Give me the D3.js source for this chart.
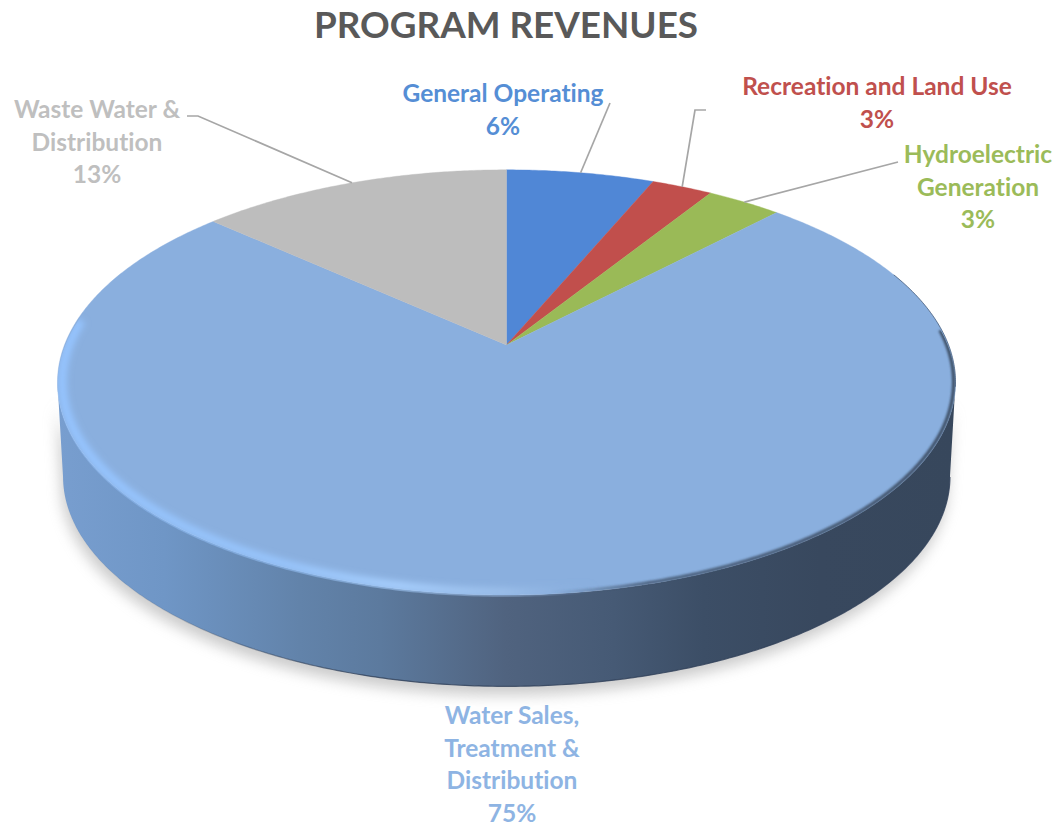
<!DOCTYPE html>
<html>
<head>
<meta charset="utf-8">
<script src="https://cdn.jsdelivr.net/npm/d3@7/dist/d3.min.js"></script>
<style>
html,body{margin:0;padding:0;background:#fff;overflow:hidden}
text{font-family:Lato,"Open Sans",sans-serif;font-weight:700;text-anchor:middle;font-variant-ligatures:none}
</style>
</head>
<body>
<svg id="c" width="1057" height="827"></svg>
<script>
// ---- data ----
const categories = ["General Operating","Recreation and Land Use","Hydroelectric Generation","Water Sales, Treatment & Distribution","Waste Water & Distribution"];
const values = [6.3, 2.6, 3.2, 74.6, 13.3];
const labelLines = [["General Operating"],["Recreation and Land Use"],["Hydroelectric","Generation"],["Water Sales,","Treatment &","Distribution"],["Waste Water &","Distribution"]];
const sliceColors = ["#5087d6","#c14f4c","#9aba57","#8aafde","#bdbdbd"];
const labelColors = ["#558ed5","#c0504d","#9bbb59","#8eb4e3","#bfbfbf"];
const title = "PROGRAM REVENUES";

// ---- layout ----
const W = 1057, H = 827;
const cx = 506.5, cy = 345, rx = 442, ry = 206, k = 0.176, depth = 95, baseR = 0.988;
const labelPos = [[503,102],[877,95],[978,163],[512,724],[97,118]];
const leaderPts = [[[610,103]],[[695,110],[706,110]],[[898,162]],null,[[198,116],[187,116]]];
const lineH = 32.7;

const svg = d3.select("#c");
const defs = svg.append("defs");
function blur(id,s){
  defs.append("filter").attr("id",id).attr("x","-10%").attr("y","-10%").attr("width","120%").attr("height","130%")
    .append("feGaussianBlur").attr("stdDeviation",s);
}
blur("b1",1.2); blur("b3",3.4); blur("b7",7);
function grad(id,stops){
  const g = defs.append("linearGradient").attr("id",id).attr("gradientUnits","userSpaceOnUse")
    .attr("x1",57).attr("x2",955).attr("y1",0).attr("y2",0);
  stops.forEach(s=>g.append("stop").attr("offset",s[0]).attr("stop-color",s[1]).attr("stop-opacity",s[2]===undefined?1:s[2]));
}
grad("side",[[0,"#789ecf"],[.12,"#6f96c6"],[.27,"#6283aa"],[.36,"#5c7a9e"],[.5,"#50637f"],[.62,"#465a75"],[.72,"#3c4e66"],[.85,"#38485e"],[1,"#37475c"]]);
grad("glow",[[0,"#95c4ff",1],[.25,"#97c4fb",1],[.38,"#a6cefd",1],[.5,"#a3c6f0",.65],[.6,"#8aafde",0],[1,"#8aafde",0]]);
grad("dark",[[0,"#37475c",0],[.55,"#37475c",0],[.66,"#3c4e66",.75],[1,"#37475c",.9]]);
grad("edge",[[0,"#2f3f58",0],[.12,"#2f3f58",.15],[.35,"#2f3f58",.8],[1,"#2f3f58",.8]]);

// perspective projection of the unit disc; angle 0 is the far side, clockwise
function project(a, r=1, dy=0){
  const u = r*Math.sin(a), up = r*Math.cos(a), w = 1 + k*up;
  return [cx + rx*u/w, cy - ry*up/w + dy];
}
const line = d3.line();
const step = Math.PI/360;
function arcPts(a0,a1,r=1,dy=0){
  const n = Math.max(2,Math.ceil(Math.abs(a1-a0)/step));
  return d3.range(n+1).map(i=>project(a0+(a1-a0)*i/n,r,dy));
}
const tanR = Math.acos(-k), tanL = 2*Math.PI-tanR;

const pie = d3.pie().sort(null)(values);

// body
const bodyPts = arcPts(tanR,tanL,baseR,depth).concat(arcPts(tanL,tanR,1,0));
svg.append("path").attr("d",line(bodyPts)+"Z").attr("fill","#9a9a9a").attr("opacity",.5)
  .attr("transform","translate(-2,9)").attr("filter","url(#b7)");
svg.append("path").attr("d",line(bodyPts)+"Z").attr("fill","url(#side)");
svg.append("path").attr("d",line(arcPts(tanR,tanL,baseR,depth))).attr("fill","none").attr("stroke","url(#edge)").attr("stroke-width",1.2);

// top slices
svg.append("g").selectAll("path").data(pie).join("path")
  .attr("d",d=>line([project(0,0)].concat(arcPts(d.startAngle,d.endAngle)))+"Z")
  .attr("fill",(d,i)=>sliceColors[i])
  .attr("stroke",(d,i)=>sliceColors[i]).attr("stroke-width",.4);

// bevel
defs.append("clipPath").attr("id","faceClip").append("path").attr("d",line(arcPts(0,2*Math.PI,1,2))+"Z");
const bevel = svg.append("g").attr("clip-path","url(#faceClip)");
bevel.append("path").attr("d",line(arcPts(tanR-0.25,tanL+0.25,0.996,0))).attr("fill","none")
  .attr("stroke","url(#dark)").attr("stroke-width",3.5).attr("filter","url(#b1)");
bevel.append("path").attr("d",line(arcPts(tanR-0.15,tanL+0.3,0.99,0))).attr("fill","none")
  .attr("stroke","url(#glow)").attr("stroke-width",9).attr("filter","url(#b3)");
svg.append("path").attr("d",line(arcPts(1.2,tanR+0.02))).attr("fill","none").attr("stroke","#3f536e").attr("stroke-width",1).attr("opacity",.7);

// leader lines
svg.append("g").selectAll("path").data(pie).join("path")
  .filter((d,i)=>leaderPts[i])
  .attr("d",d=>{
    const mid = (d.startAngle+d.endAngle)/2;
    return line([project(mid,1.0,0)].concat(leaderPts[d.index]));
  })
  .attr("fill","none").attr("stroke","#a6a6a6").attr("stroke-width",1.7);

// title
svg.append("text").attr("x",506).attr("y",38).attr("fill","#595959").attr("font-size",36.8).text(title);

// labels
const lg = svg.append("g").attr("font-size",24.5);
labelLines.forEach((ls,i)=>{
  const t = ls.concat([d3.format(".0f")(values[i])+"%"]);
  t.forEach((s,j)=>{
    lg.append("text").attr("x",labelPos[i][0]).attr("y",labelPos[i][1]+j*lineH)
      .attr("fill",labelColors[i]).text(s);
  });
});
</script>
</body>
</html>
